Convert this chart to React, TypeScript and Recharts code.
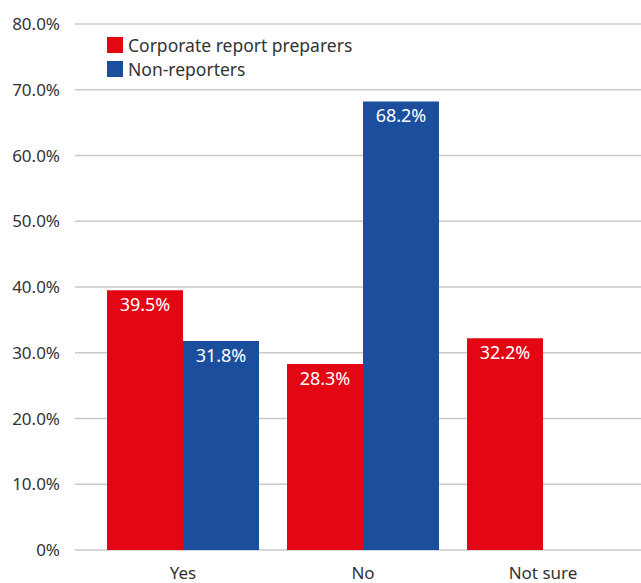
import { BarChart, Bar, XAxis, YAxis, CartesianGrid, LabelList } from 'recharts';

const categories = ['Yes', 'No', 'Not sure'];
const preparers = [39.5, 28.3, 32.2];
const nonReporters: (number | null)[] = [31.8, 68.2, null];
const yTicks = [0, 10, 20, 30, 40, 50, 60, 70, 80];

const RED = '#e30613';
const BLUE = '#1b4f9e';
const FONT = '"Noto Sans", Lato, sans-serif';

const data = categories.map((name, i) => ({
  name,
  preparers: preparers[i],
  nonReporters: nonReporters[i],
}));

const fmtPct = (v: unknown) => (v == null ? '' : `${Number(v).toFixed(1)}%`);

const legendItems = [
  { label: 'Corporate report preparers', color: RED },
  { label: 'Non-reporters', color: BLUE },
];

export default function App() {
  return (
    <div style={{ position: 'relative', width: 641, height: 583, background: '#fff' }}>
      <style>{'body { margin: 0; overflow: hidden; }'}</style>
      <BarChart
        width={641}
        height={583}
        data={data}
        margin={{ top: 24, right: 0, bottom: 0, left: 0 }}
        barCategoryGap={14}
        barGap={0}
      >
        <CartesianGrid vertical={false} stroke="#cacaca" strokeWidth={1.5} />
        <XAxis
          dataKey="name"
          height={33}
          axisLine={false}
          tickLine={false}
          padding={{ left: 18, right: 8 }}
          tickMargin={11}
          tick={{ fill: '#333', fontSize: 17, fontFamily: FONT }}
        />
        <YAxis
          domain={[0, 80]}
          ticks={yTicks}
          width={75}
          axisLine={false}
          tickLine={false}
          tickMargin={9}
          tickFormatter={(v: number) => (v === 0 ? '0%' : `${v.toFixed(1)}%`)}
          tick={{ fill: '#333', fontSize: 17, fontFamily: FONT }}
        />
        <Bar dataKey="preparers" name="Corporate report preparers" fill={RED} isAnimationActive={false}>
          <LabelList
            dataKey="preparers"
            position="insideTop"
            offset={8}
            formatter={fmtPct}
            style={{ fill: '#fff', fontSize: 18, fontFamily: FONT }}
          />
        </Bar>
        <Bar dataKey="nonReporters" name="Non-reporters" fill={BLUE} isAnimationActive={false}>
          <LabelList
            dataKey="nonReporters"
            position="insideTop"
            offset={8}
            formatter={fmtPct}
            style={{ fill: '#fff', fontSize: 18, fontFamily: FONT }}
          />
        </Bar>
      </BarChart>
      {/* legend sits over the plot, so keep it out of recharts' layout */}
      <div style={{ position: 'absolute', left: 107, top: 33, fontFamily: FONT, fontSize: 17.5, color: '#333' }}>
        {legendItems.map((it) => (
          <div key={it.label} style={{ display: 'flex', alignItems: 'center', height: 24 }}>
            <span style={{ width: 16, height: 16, background: it.color, marginRight: 5 }} />
            <span>{it.label}</span>
          </div>
        ))}
      </div>
    </div>
  );
}
